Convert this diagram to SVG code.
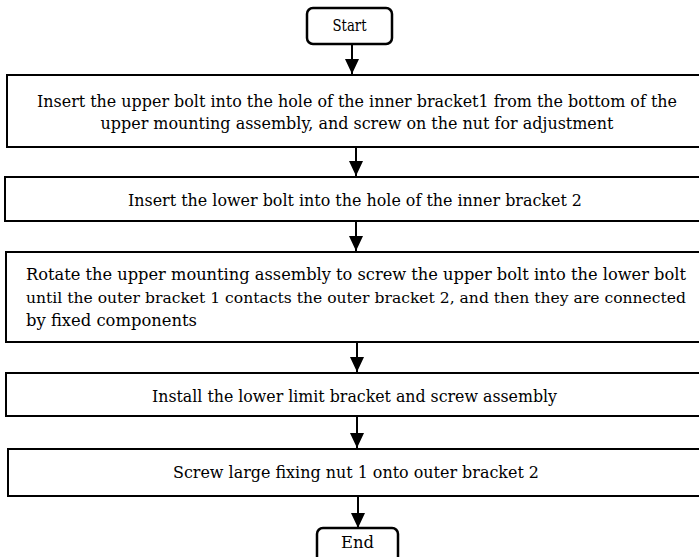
<svg xmlns="http://www.w3.org/2000/svg" width="699" height="557" viewBox="0 0 699 557">
  <style>
    .box { fill: #ffffff; stroke: #000000; stroke-width: 2; }
    .term { fill: #ffffff; stroke: #000000; stroke-width: 2.5; }
    .c { text-anchor: middle; }
    .flow { stroke: #000000; stroke-width: 2; fill: none; marker-end: url(#head); }
  </style>
  <defs>
    <!-- arrowhead drawn along +x so orient="auto" points it down the line -->
    <marker id="head" viewBox="0 0 15 14" refX="15" refY="7" markerWidth="15" markerHeight="14" markerUnits="userSpaceOnUse" orient="auto">
      <path d="M0,0 L15,7 L0,14 Z" fill="#000000"/>
    </marker>
  </defs>
  <rect width="699" height="557" fill="#ffffff"/>

  <g id="connectors">
    <line class="flow" x1="352" y1="44" x2="352" y2="74"/>
    <line class="flow" x1="356" y1="148" x2="356" y2="176"/>
    <line class="flow" x1="356" y1="221" x2="356" y2="251"/>
    <line class="flow" x1="357" y1="342" x2="357" y2="372"/>
    <line class="flow" x1="357" y1="416" x2="357" y2="448"/>
    <line class="flow" x1="358" y1="496" x2="358" y2="528"/>
  </g>

  <g font-family="DejaVu Serif, serif" font-size="16" fill="#000000">
    <g id="start">
      <rect class="term" x="307" y="8" width="85" height="36" rx="6"/>
      <text class="c" x="349.5" y="31" textLength="34" lengthAdjust="spacingAndGlyphs">Start</text>
    </g>

    <g id="step1">
      <rect class="box" x="7" y="75" width="700" height="72"/>
      <text class="c" x="357" y="107" textLength="640" lengthAdjust="spacingAndGlyphs">Insert the upper bolt into the hole of the inner bracket1 from the bottom of the</text>
      <text class="c" x="357" y="129" textLength="513" lengthAdjust="spacingAndGlyphs">upper mounting assembly, and screw on the nut for adjustment</text>
    </g>

    <g id="step2">
      <rect class="box" x="5" y="177" width="700" height="44"/>
      <text class="c" x="355" y="206" textLength="454" lengthAdjust="spacingAndGlyphs">Insert the lower bolt into the hole of the inner bracket 2</text>
    </g>

    <g id="step3">
      <rect class="box" x="6" y="252" width="700" height="90"/>
      <text x="26" y="280" textLength="660" lengthAdjust="spacingAndGlyphs">Rotate the upper mounting assembly to screw the upper bolt into the lower bolt</text>
      <text x="26" y="303" font-size="15" textLength="660" lengthAdjust="spacingAndGlyphs">until the outer bracket 1 contacts the outer bracket 2, and then they are connected</text>
      <text x="26" y="326" textLength="171" lengthAdjust="spacingAndGlyphs">by fixed components</text>
    </g>

    <g id="step4">
      <rect class="box" x="6" y="373" width="700" height="43"/>
      <text class="c" x="354.5" y="402" textLength="405" lengthAdjust="spacingAndGlyphs">Install the lower limit bracket and screw assembly</text>
    </g>

    <g id="step5">
      <rect class="box" x="8" y="449" width="700" height="47"/>
      <text class="c" x="356" y="478" textLength="366" lengthAdjust="spacingAndGlyphs">Screw large fixing nut 1 onto outer bracket 2</text>
    </g>

    <g id="end">
      <rect class="term" x="317" y="528" width="81" height="40" rx="6"/>
      <text class="c" x="357.5" y="548" textLength="33" lengthAdjust="spacingAndGlyphs">End</text>
    </g>
  </g>
</svg>
